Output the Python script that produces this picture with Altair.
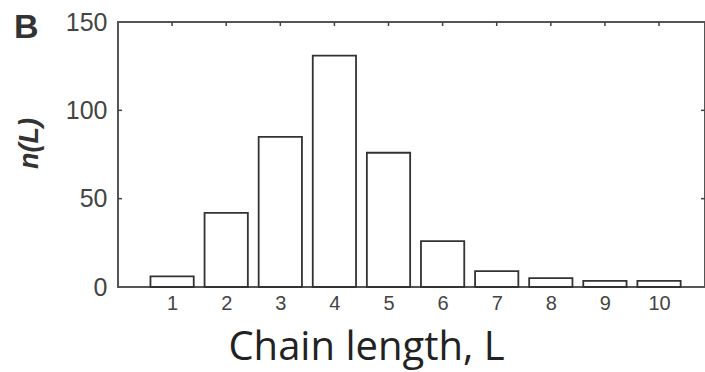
import altair as alt
import pandas as pd

chain_length = [1, 2, 3, 4, 5, 6, 7, 8, 9, 10]
counts = [6, 42, 85, 131, 76, 26, 9, 5, 3.5, 3.5]
y_ticks = [0, 50, 100, 150]
y_inner_ticks = [50, 100]
panel_label = ["B"]

bars_df = pd.DataFrame({"L": chain_length, "n": counts})
yt_df = pd.DataFrame({"v": y_inner_ticks})
lab_df = pd.DataFrame({"t": panel_label})

W, H = 587, 265
xscale = alt.Scale(domain=[0, 10.85], nice=False, zero=False)
yscale = alt.Scale(domain=[0, 150], nice=False)

bars = alt.Chart(bars_df).transform_calculate(
    x0="datum.L - 0.4", x1="datum.L + 0.4"
).mark_bar(fill="white", stroke="#333333", strokeWidth=1.8).encode(
    x=alt.X("x0:Q", scale=xscale,
            axis=alt.Axis(values=chain_length, ticks=False, domain=False, grid=False,
                          labelFont="Liberation Sans", labelFontSize=20, labelColor="#444444",
                          labelPadding=6, labelFlush=False,
                          title="Chain length, L", titleFont="Open Sans", titleFontSize=40,
                          titleFontWeight="normal", titleColor="#222222",
                          titleX=248, titleY=72, titleAlign="center",
                          titleBaseline="alphabetic")),
    x2="x1:Q",
    y=alt.Y("n:Q", scale=yscale,
            axis=alt.Axis(values=y_ticks, ticks=False, domain=False, grid=False,
                          labelFont="Liberation Sans", labelFontSize=25, labelColor="#444444",
                          labelPadding=11, labelFlush=False,
                          title="n(L)", titleFont="Liberation Sans", titleFontSize=27,
                          titleFontStyle="italic", titleFontWeight="bold", titleColor="#333333",
                          titleX=-89, titleY=121, titleAngle=270, titleAlign="center",
                          titleBaseline="middle")),
    y2=alt.datum(0),
)

top_ticks = alt.Chart(bars_df).mark_rule(color="#444444", strokeWidth=1.5).encode(
    x=alt.X("L:Q", scale=xscale), y=alt.value(0), y2=alt.value(4)
)
left_ticks = alt.Chart(yt_df).mark_rule(color="#444444", strokeWidth=1.5).encode(
    y=alt.Y("v:Q", scale=yscale), x=alt.value(0), x2=alt.value(4)
)
right_ticks = alt.Chart(yt_df).mark_rule(color="#444444", strokeWidth=1.5).encode(
    y=alt.Y("v:Q", scale=yscale), x=alt.value(W - 4), x2=alt.value(W)
)
label_b = alt.Chart(lab_df).mark_text(
    align="left", baseline="alphabetic", font="Liberation Sans", fontSize=34,
    fontWeight="bold", color="#333333"
).encode(text="t:N", x=alt.value(-104), y=alt.value(16))

chart = alt.layer(bars, top_ticks, left_ticks, right_ticks, label_b).properties(
    width=W, height=H,
    autosize=alt.AutoSizeParams(type="none"),
    padding={"left": 118, "top": 22, "right": 0, "bottom": 85},
    background="white",
).configure_view(stroke="#555555", strokeWidth=2)

chart.save("out.html", embed_options={"renderer": "svg", "actions": False})
